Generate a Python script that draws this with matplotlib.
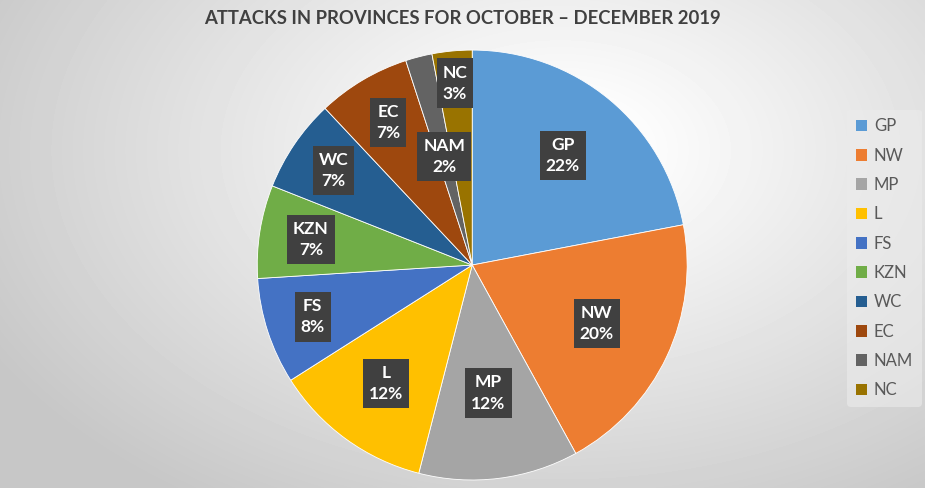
import numpy as np
import matplotlib.pyplot as plt

# data
provinces = ['GP', 'NW', 'MP', 'L', 'FS', 'KZN', 'WC', 'EC', 'NAM', 'NC']
shares = [22, 20, 12, 12, 8, 7, 7, 7, 2, 3]
colors = ['#5B9BD5', '#ED7D31', '#A5A5A5', '#FFC000', '#4472C4',
          '#70AD47', '#255E91', '#9E480E', '#636363', '#997300']
# where each label sits, as fraction of the radius
label_dist = [0.66, 0.64, 0.6, 0.68, 0.78, 0.76, 0.78, 0.77, 0.52, 0.85]

title = 'ATTACKS IN PROVINCES FOR OCTOBER \u2013 DECEMBER 2019'

plt.rcParams['font.family'] = ['Lato', 'DejaVu Sans']

fig = plt.figure(figsize=(9.25, 4.88), dpi=100)

# background gradient
bg = fig.add_axes([0, 0, 1, 1])
yy, xx = np.mgrid[0:488, 0:925]
d = np.sqrt(((xx - 560) / 650.0) ** 2 + ((yy - 150) / 420.0) ** 2)
shade = np.clip(1.02 - 0.24 * d, 0.78, 1.0)
bg.imshow(shade, cmap='gray', vmin=0, vmax=1, aspect='auto', interpolation='bilinear')
bg.axis('off')

ax = fig.add_axes([0.278, 0.0164, 0.465, 0.881])
ax.set_facecolor('none')
wedges, _ = ax.pie(shares, colors=colors, startangle=90, counterclock=False,
                   wedgeprops=dict(edgecolor='white', linewidth=0.6))
ax.set_xlim(-1, 1)
ax.set_ylim(-1, 1)
ax.set_aspect('equal')

for w, name, s, r in zip(wedges, provinces, shares, label_dist):
  ang = np.deg2rad((w.theta1 + w.theta2) / 2.0)
  ax.text(r * np.cos(ang), r * np.sin(ang), name + '\n' + str(s) + '%',
          ha='center', va='center', color='white', fontsize=12.5, fontweight='bold',
          linespacing=1.4,
          bbox=dict(boxstyle='square,pad=0.35', facecolor='#404040', edgecolor='none'))

fig.text(0.50, 0.962, title, ha='center', va='center', fontsize=13.3,
         fontweight='bold', color='#404040')

leg = fig.legend(wedges, provinces, loc='upper left', bbox_to_anchor=(0.907, 0.792),
                 frameon=True, fontsize=12, labelcolor='#595959',
                 handlelength=0.7, handleheight=0.7, handletextpad=0.4,
                 labelspacing=0.8, borderpad=0.5)
leg.get_frame().set_facecolor('#ececec')
leg.get_frame().set_edgecolor('none')
leg.get_frame().set_alpha(0.6)
for h in leg.legend_handles:
  h.set_edgecolor('none')

fig.savefig('out.png', dpi=100)
